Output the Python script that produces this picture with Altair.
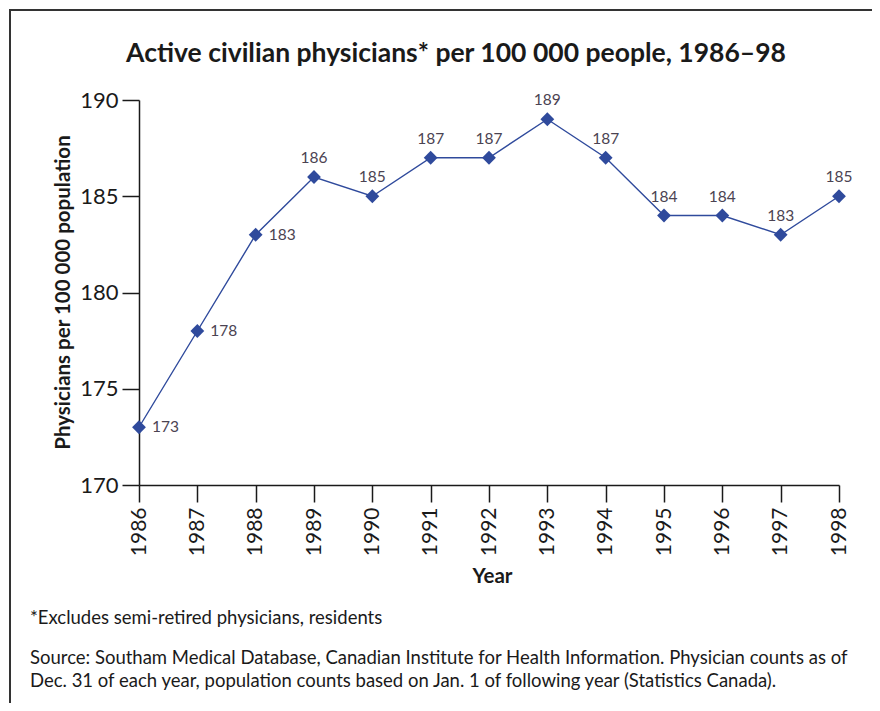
import altair as alt
import pandas as pd

# ---- data ----
years = [1986, 1987, 1988, 1989, 1990, 1991, 1992, 1993, 1994, 1995, 1996, 1997, 1998]
values = [173, 178, 183, 186, 185, 187, 187, 189, 187, 184, 184, 183, 185]
y_ticks = [170, 175, 180, 185, 190]

title_text = "Active civilian physicians* per 100 000 people, 1986–98"
y_title = "Physicians per 100 000 population"
x_title = "Year"
footnote = "*Excludes semi-retired physicians, residents"
source_lines = [
    "Source: Southam Medical Database, Canadian Institute for Health Information. Physician counts as of",
    "Dec. 31 of each year, population counts based on Jan. 1 of following year (Statistics Canada).",
]

df = pd.DataFrame({"year": years, "value": values})
one = pd.DataFrame({"a": [0]})

FONT = "Lato"
BLUE = "#2f4a9c"
INK = "#1a1a1a"
LABEL = "#4b4352"
W, H = 700, 385

x_enc = alt.X(
    "year:Q",
    scale=alt.Scale(domain=[1986, 1998], nice=False, zero=False),
    axis=alt.Axis(
        values=years, format="d", labelAngle=-90, labelPadding=5, labelFontSize=21,
        titleX=353, titleY=91, titleBaseline="middle", titleAlign="center",
    ),
    title=x_title,
)
y_enc = alt.Y(
    "value:Q",
    scale=alt.Scale(domain=[170, 190], nice=False, zero=False),
    axis=alt.Axis(
        values=y_ticks, labelPadding=4, labelFontSize=22,
        titleX=-76, titleY=192, titleBaseline="middle", titleAlign="center",
    ),
    title=y_title,
)

base = alt.Chart(df)
line = base.mark_line(color=BLUE, strokeWidth=1.4).encode(x=x_enc, y=y_enc)
points = base.mark_point(shape="diamond", filled=True, size=190, color=BLUE, opacity=1).encode(
    x=x_enc, y=y_enc
)
labels_right = base.transform_filter(alt.datum.year <= 1988).mark_text(
    align="left", baseline="middle", dx=13, font=FONT, fontSize=15.5, color=LABEL
).encode(x=x_enc, y=y_enc, text=alt.Text("value:Q"))
labels_above = base.transform_filter(alt.datum.year > 1988).mark_text(
    align="center", baseline="middle", dy=-19, font=FONT, fontSize=15.5, color=LABEL
).encode(x=x_enc, y=y_enc, text=alt.Text("value:Q"))

frame = alt.Chart(one).mark_rect(fill=None, stroke="#333", strokeWidth=2).encode(
    x=alt.value(-129), x2=alt.value(780), y=alt.value(-90), y2=alt.value(660)
)
title = alt.Chart(one).mark_text(
    align="center", baseline="middle", font=FONT, fontSize=26.5, fontWeight="bold", color=INK
).encode(x=alt.value(317), y=alt.value(-46), text=alt.value(title_text))
foot = alt.Chart(one).mark_text(
    align="left", baseline="alphabetic", font=FONT, fontSize=18.5, color=INK
).encode(x=alt.value(-109), y=alt.value(524), text=alt.value(footnote))
source = alt.Chart(one).mark_text(
    align="left", baseline="alphabetic", font=FONT, fontSize=18.5, color=INK, lineHeight=23
).encode(x=alt.value(-109), y=alt.value(564), text=alt.value(source_lines))

chart = (
    alt.layer(frame, title, line, points, labels_right, labels_above, foot, source)
    .properties(
        width=W,
        height=H,
        autosize=alt.AutoSizeParams(type="none"),
        padding={"left": 131, "top": 92, "right": 33, "bottom": 218},
    )
    .configure_view(stroke=None)
    .configure_axis(
        grid=False, domainColor=INK, tickColor=INK, domainWidth=1.5, tickWidth=1.5,
        tickSize=17, labelFont=FONT, labelColor=INK,
        titleFont=FONT, titleFontSize=20.5, titleFontWeight="bold", titleColor=INK,
    )
)

chart.save("out.html", embed_options={"renderer": "svg", "actions": False})
